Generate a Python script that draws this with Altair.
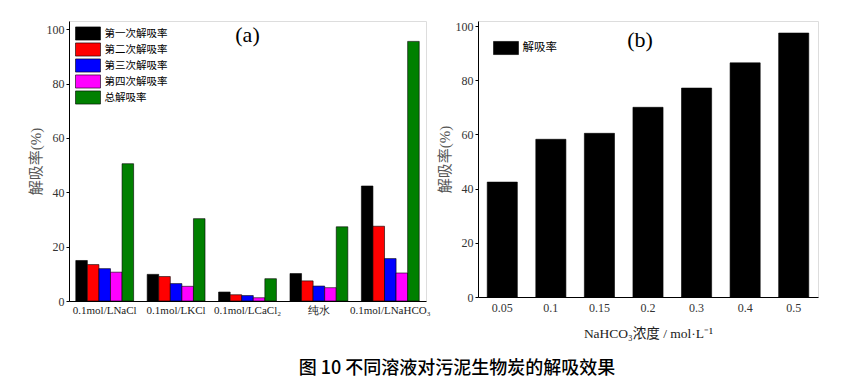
import altair as alt
import pandas as pd

# ---------------- data ----------------
solutions = ["0.1mol/LNaCl", "0.1mol/LKCl", "0.1mol/LCaCl₂", "纯水", "0.1mol/LNaHCO₃"]
series = ["第一次解吸率", "第二次解吸率", "第三次解吸率", "第四次解吸率", "总解吸率"]
colors = ["#000000", "#ff0000", "#0000ff", "#ff00ff", "#008000"]
first = [14.9, 9.8, 3.3, 10.1, 42.3]
second = [13.4, 9.0, 2.3, 7.4, 27.5]
third = [11.9, 6.4, 2.0, 5.5, 15.6]
fourth = [10.6, 5.4, 1.2, 4.9, 10.3]
total = [50.5, 30.3, 8.2, 27.3, 95.5]

conc = ["0.05", "0.1", "0.15", "0.2", "0.3", "0.4", "0.5"]
rate = [42.4, 58.2, 60.4, 70.0, 77.1, 86.4, 97.4]
rate_label = "解吸率"

y_ticks = [0, 20, 40, 60, 80, 100]
caption = "图 10  不同溶液对污泥生物炭的解吸效果"

# ---------------- tables ----------------
rows = []
for s, vals in zip(series, [first, second, third, fourth, total]):
    for sol, v in zip(solutions, vals):
        rows.append({"solution": sol, "series": s, "value": v})
df_a = pd.DataFrame(rows)
df_b = pd.DataFrame({"conc": conc, "rate": rate, "name": rate_label})
lab_a = pd.DataFrame({"solution": [solutions[2]], "y": [98], "t": ["(a)"]})
lab_b = pd.DataFrame({"conc": [conc[3]], "y": [95], "t": ["(b)"]})

SERIF = "Liberation Serif"
CJK = "Noto Sans CJK SC"
MIX = '"Liberation Serif", "Noto Sans CJK SC"'

def y_axis():
    return alt.Axis(
        values=y_ticks, grid=False, title="解吸率(%)", titleFont=MIX,
        titleFontSize=15, titleFontWeight="normal", titleColor="#555555",
        titlePadding=3, labelFont=SERIF, labelFontSize=12, labelColor="#333333",
        tickSize=3, tickColor="black", domainColor="black", labelPadding=2,
    )

def legend(x, y, fs):
    # wide rectangular swatch: path spans 4 x 2 units, scaled by sqrt(size)/2
    return alt.Legend(title=None, orient="none", legendX=x, legendY=y,
                      symbolType="M-2,-1.05H2V1.05H-2Z", symbolSize=156,
                      symbolStrokeColor="black", symbolStrokeWidth=0.6,
                      symbolOpacity=1, labelFont=CJK, labelFontSize=fs,
                      labelColor="black", labelOffset=9.5, rowPadding=0, padding=0)

# ---------------- panel (a) ----------------
bars_a = alt.Chart(df_a).mark_bar(stroke="black", strokeWidth=0.6).encode(
    x=alt.X("solution:N", sort=solutions,
            scale=alt.Scale(paddingInner=0.19, paddingOuter=0.095),
            axis=alt.Axis(title=None, labelAngle=0, ticks=False, labelFont=SERIF,
                          labelFontSize=11, labelColor="#222222", labelPadding=3,
                          domainColor="black")),
    xOffset=alt.XOffset("series:N", sort=series, scale=alt.Scale(paddingInner=0, paddingOuter=0)),
    y=alt.Y("value:Q", scale=alt.Scale(domain=[0, 103], nice=False), axis=y_axis()),
    color=alt.Color("series:N", sort=series,
                    scale=alt.Scale(domain=series, range=colors),
                    legend=legend(12, 5.5, 10.5)),
)
text_a = alt.Chart(lab_a).mark_text(font=SERIF, fontSize=22, color="black").encode(
    x=alt.X("solution:N", sort=solutions), y=alt.Y("y:Q"), text="t:N")
panel_a = alt.layer(bars_a, text_a).properties(width=357, height=280)

# ---------------- panel (b) ----------------
bars_b = alt.Chart(df_b).mark_bar(color="black", stroke="black", strokeWidth=0.6).encode(
    x=alt.X("conc:N", sort=conc,
            scale=alt.Scale(paddingInner=0.38, paddingOuter=0.19),
            axis=alt.Axis(title="NaHCO₃浓度 / mol·L⁻¹", titleFont=MIX, titleFontSize=13.5,
                          titleFontWeight="normal", titleColor="#222222", titlePadding=13,
                          labelAngle=0, ticks=False, labelFont=SERIF, labelFontSize=12,
                          labelColor="#333333", labelPadding=5, domainColor="black")),
    y=alt.Y("rate:Q", scale=alt.Scale(domain=[0, 101.85], nice=False), axis=y_axis()),
    color=alt.Color("name:N", scale=alt.Scale(domain=[rate_label], range=["#000000"]),
                    legend=legend(21, 20, 11.5)),
)
text_b = alt.Chart(lab_b).mark_text(font=SERIF, fontSize=22, color="black", dx=-8).encode(
    x=alt.X("conc:N", sort=conc), y=alt.Y("y:Q"), text="t:N")
panel_b = alt.layer(bars_b, text_b).properties(width=340, height=276)

chart = alt.hconcat(panel_a, panel_b, spacing=52, bounds="flush").resolve_scale(
    color="independent", x="independent", y="independent"
).properties(
    title=alt.TitleParams(caption, orient="bottom", anchor="middle", font=CJK,
                          fontSize=18, fontWeight=500, color="black", offset=20, dx=34),
    padding={"left": 19, "top": 11, "right": 5, "bottom": 5},
).configure_view(stroke="black", strokeWidth=1).configure(background="white")

chart.save("out.html", embed_options={"renderer": "svg", "actions": False})
